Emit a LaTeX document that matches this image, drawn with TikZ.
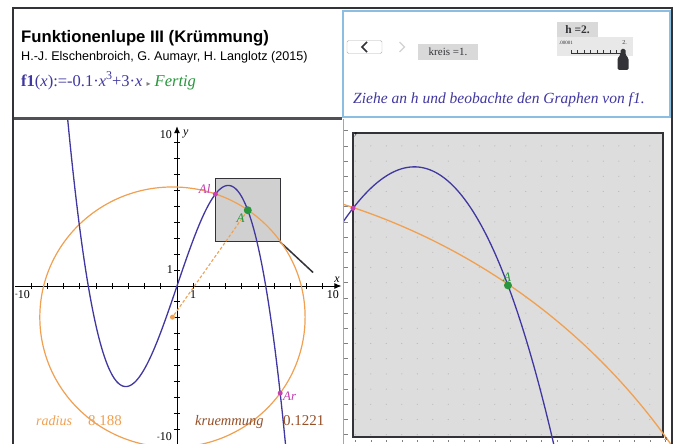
\documentclass[tikz,border=0pt]{standalone}
\usepackage{fontspec}
\setmainfont{Liberation Serif}
\setsansfont{Liberation Sans}
\newfontfamily\dejavu{DejaVu Sans}
\usetikzlibrary{arrows.meta}
\definecolor{fblue}{RGB}{64,56,160}
\definecolor{corange}{RGB}{240,160,80}
\definecolor{apink}{RGB}{196,64,176}
\definecolor{agreen}{RGB}{40,150,60}
\definecolor{kbrown}{RGB}{150,80,40}
\definecolor{panelblue}{RGB}{140,190,225}
\definecolor{boxgray}{RGB}{208,208,208}
\definecolor{zoomgray}{RGB}{221,221,221}
\definecolor{darkline}{RGB}{50,50,55}
\tikzset{
  curveline/.style={fblue, line width=1.3pt},
  circleline/.style={corange, line width=1.2pt},
  axisline/.style={black, line width=0.9pt},
  pinkdot/.style={circle, fill=apink, inner sep=0pt, minimum size=5pt},
  greendot/.style={circle, fill=agreen, inner sep=0pt, minimum size=8pt},
  axlabel/.style={font=\fontsize{12}{13}\selectfont, inner sep=1pt},
  ptlabel/.style={font=\itshape\fontsize{13}{14}\selectfont, inner sep=1pt},
  valtext/.style={font=\fontsize{15}{16}\selectfont, inner sep=0pt, anchor=base west},
  graybox/.style={fill=gray!30, inner sep=0pt, text=darkline},
}
\begin{document}
\begin{tikzpicture}[x=1pt,y=-1pt]
\useasboundingbox (0,0) rectangle (677,444);
\fill[white] (0,0) rectangle (677,444);

% ---------- top left panel ----------
\node[anchor=base west, font=\sffamily\bfseries\fontsize{16.7}{18}\selectfont, inner sep=0pt] (title) at (21,43) {Funktionenlupe III (Krümmung)};
\node[anchor=base west, font=\sffamily\fontsize{12.6}{14}\selectfont, inner sep=0pt] (authors) at (21,61) {H.-J. Elschenbroich, G. Aumayr, H. Langlotz (2015)};
\node[anchor=base west, font=\fontsize{16.5}{18}\selectfont, inner sep=0pt] (def) at (21,86)
  {\textcolor{fblue}{\textbf{f1}(\textit{x}):=-0.1·\textit{x}\raisebox{0.42em}{\fontsize{12}{12}\selectfont 3}+3·\textit{x}} \textcolor{gray}{\dejavu\fontsize{8}{8}\selectfont ▸} \textcolor{agreen}{\textit{Fertig}}};

% ---------- top right panel ----------
\node[draw=gray!60, fill=white, rounded corners=1.5pt, minimum width=35pt, minimum height=13pt, inner sep=0pt] (prev) at (364.5,47) {};
\draw[darkline, line width=1.6pt] (prev.center) ++(2.5,-5) -- ++(-5,5) -- ++(5,5);
\node[minimum width=17pt, minimum height=13pt, inner sep=0pt] (next) at (402,47) {};
\draw[gray!35, line width=1.2pt] (next.center) ++(-2.5,-5) -- ++(5,5) -- ++(-5,5);
\node[graybox, minimum width=60pt, minimum height=16pt, font=\fontsize{11}{12}\selectfont] (kreis) at (448,52) {kreis =1.};
\node[graybox, minimum width=41pt, minimum height=15pt, font=\bfseries\fontsize{11.5}{12}\selectfont] (hval) at (577.5,29.5) {h =2.};
\node[fill=gray!18, minimum width=76pt, minimum height=19pt, inner sep=0pt] (slider) at (595,47) {};
\node[anchor=west, font=\fontsize{5}{6}\selectfont, inner sep=0pt, text=darkline] (smin) at (559,43) {.00001};
\node[anchor=east, font=\fontsize{6}{7}\selectfont, inner sep=0pt, text=darkline] (smax) at (627,43) {2.};
\draw[darkline, line width=0.8pt] (571,53) -- (623,53);
\foreach \t in {0,...,8} \draw[darkline, line width=0.6pt] (571+6.5*\t,50.5) -- (571+6.5*\t,53);
\fill[darkline, rounded corners=1.5pt] (620.5,49) -- (625.5,49) -- (625.5,55) -- (628.5,58) -- (628.5,70) -- (617.5,70) -- (617.5,58) -- (620.5,55) -- cycle;
\node[anchor=base west, font=\itshape\fontsize{15.5}{17}\selectfont, text=fblue, inner sep=0pt] (hint) at (353,103) {Ziehe an h und beobachte den Graphen von f1.};

% ---------- left graph ----------
\begin{scope}
\clip (14,120) rectangle (342,444);
\begin{scope}[shift={(177pt,-286pt)}, x=16.2pt, y=15.9pt]
  \coordinate (O) at (0,0);
  \coordinate (Al) at (2.37,5.779);
  \coordinate (A) at (4.37,4.765);
  \coordinate (Ar) at (6.37,-6.737);
  \coordinate (M) at (-0.28,-1.96);
  \coordinate (hs) at (8.4,0.85);
  \draw[fill=boxgray, draw=darkline, line width=1pt] (2.37,2.77) coordinate (bl) rectangle (6.37,6.77);
  \coordinate (br) at (6.37,2.77);
  \draw[darkline, line width=1.5pt] (br) -- (hs);
  \draw[axisline, -{Latex[length=7pt,width=6pt]}] (-10,0) -- (10.15,0);
  \draw[axisline, -{Latex[length=7pt,width=6pt]}] (0,-10.6) -- (0,10.05);
  \foreach \i in {-9,...,9} {
    \draw[axisline] (\i,-0.19) -- (\i,0.19);
    \draw[axisline] (-0.19,\i) -- (0.19,\i);
  }
  \draw[circleline] (M) circle [radius=8.188];
  \draw[corange, line width=1.1pt, dashed, dash pattern=on 3pt off 2pt] (A) -- (M);
  \node[circle, fill=corange, inner sep=0pt, minimum size=5pt] (Mpt) at (M) {};
  \draw[curveline, domain=-6.8:6.8, samples=160, smooth] plot (\x, {-0.1*(\x)^3+3*(\x)});
  \node[pinkdot] (Alpt) at (Al) {};
  \node[pinkdot] (Arpt) at (Ar) {};
  \node[greendot] (Apt) at (A) {};
\end{scope}
\end{scope}
\node[ptlabel, text=apink, anchor=south east] (Allab) at ([xshift=-1pt,yshift=-1pt]Alpt.west) {Al};
\node[ptlabel, text=agreen, anchor=north east] (Alab) at ([xshift=1pt]Apt.south west) {A};
\node[ptlabel, text=apink, anchor=north west] (Arlab) at ([xshift=-1pt,yshift=2pt]Arpt.east) {Ar};
\node[axlabel, anchor=east] (y10) at (173,135) {10};
\node[axlabel, anchor=west, font=\itshape\fontsize{12}{13}\selectfont] (ylab) at (182,134) {y};
\node[axlabel, anchor=east] (y1) at (174,270) {1};
\node[axlabel, anchor=east] (ym10) at (173,437) {\raisebox{0.35ex}{\fontsize{8}{8}\selectfont -}10};
\node[axlabel, anchor=north west] (xm10) at (14,289) {\raisebox{0.35ex}{\fontsize{8}{8}\selectfont -}10};
\node[axlabel, anchor=north] (x1) at (193,289) {1};
\node[axlabel, anchor=north east] (x10) at (340,289) {10};
\node[axlabel, anchor=south east, font=\itshape\fontsize{12}{13}\selectfont] (xlab) at (341,284) {x};
\node[valtext, text=corange, font=\itshape\fontsize{14}{15}\selectfont] (rad) at (36,425) {radius};
\node[valtext, text=corange] (radv) at (88,425) {8.188};
\node[valtext, text=kbrown, font=\itshape\fontsize{14.5}{15}\selectfont] (kr) at (195,425) {kruemmung};
\node[valtext, text=kbrown] (krv) at (283,425) {0.1221};

% ---------- right graph ----------
\begin{scope}
\clip (344,119) rectangle (671,444);
\begin{scope}[shift={(169.3pt,-647.5pt)}, x=77.5pt, y=76pt]
  \fill[zoomgray] (2.37,2.77) rectangle (6.37,6.77);
  \foreach \i in {12,...,31} \foreach \j in {14,...,33} \fill[gray!55] (\i/5,\j/5) circle [radius=0.6pt];
  \draw[darkline, line width=1.2pt] (2.37,2.77) rectangle (6.37,6.77);
  \foreach \j in {14,...,35} \draw[gray, line width=0.5pt] (2.255,\j/5) -- (2.3,\j/5);
  \foreach \i in {12,...,32} \draw[gray, line width=0.5pt] (\i/5,2.705) -- (\i/5,2.73);
  \coordinate (zM) at (-0.28,-1.96);
  \coordinate (zAl) at (2.37,5.779);
  \coordinate (zA) at (4.37,4.765);
  \draw[circleline, line width=1.3pt] (zM) circle [radius=8.188];
  \draw[curveline, domain=2.2:5.75, samples=120, smooth] plot (\x, {-0.1*(\x)^3+3*(\x)});
  \node[pinkdot] (zAlpt) at (zAl) {};
  \node[greendot] (zApt) at (zA) {};
\end{scope}
\end{scope}
\node[ptlabel, text=agreen, anchor=south] (zAlab) at ([xshift=-1pt,yshift=-2pt]zApt.north) {A};
\node[font=\itshape\fontsize{6}{6}\selectfont, inner sep=0pt] (zylab) at (356,135) {y};
\node[font=\itshape\fontsize{6}{6}\selectfont, inner sep=0pt] (zxlab) at (666,439) {x};

% ---------- frames ----------
\draw[panelblue, line width=2pt] (343,11) rectangle (670,117);
\draw[darkline!85, line width=3pt] (13,118) -- (342,118);
\draw[gray!70, line width=1pt] (343,119) -- (343,444);
\draw[darkline, line width=2pt] (13,8) -- (672,8);
\draw[darkline, line width=2pt] (13,7) -- (13,444);
\draw[darkline, line width=2pt] (672,7) -- (672,444);
\end{tikzpicture}
\end{document}
